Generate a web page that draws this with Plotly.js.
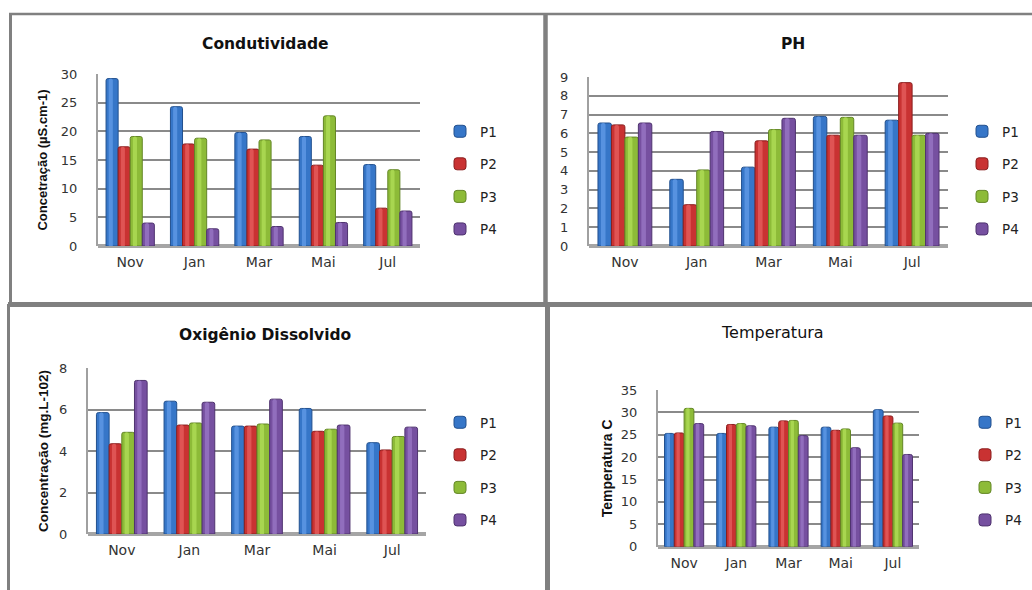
<!DOCTYPE html>
<html>
<head>
<meta charset="utf-8">
<script src="https://cdn.plot.ly/plotly-3.0.1.min.js"></script>
<style>
  html, body { margin: 0; padding: 0; background: #ffffff; }
  #chart { width: 1032px; height: 590px; }
</style>
</head>
<body>
<div id="chart"></div>
<script>
// ---------- data ----------
const months = ["Nov", "Jan", "Mar", "Mai", "Jul"];
const seriesNames = ["P1", "P2", "P3", "P4"];

const condP1 = [29.2, 24.3, 19.8, 19.1, 14.2];
const condP2 = [17.3, 17.8, 16.9, 14.1, 6.6];
const condP3 = [19.1, 18.8, 18.5, 22.7, 13.3];
const condP4 = [4.0, 3.0, 3.4, 4.1, 6.1];

const phP1 = [6.55, 3.55, 4.2, 6.9, 6.7];
const phP2 = [6.45, 2.2, 5.6, 5.9, 8.7];
const phP3 = [5.8, 4.05, 6.2, 6.85, 5.9];
const phP4 = [6.55, 6.1, 6.8, 5.9, 6.0];

const odP1 = [5.85, 6.4, 5.2, 6.05, 4.4];
const odP2 = [4.35, 5.25, 5.2, 4.95, 4.05];
const odP3 = [4.9, 5.35, 5.3, 5.05, 4.7];
const odP4 = [7.4, 6.35, 6.5, 5.25, 5.15];

const tempP1 = [25.3, 25.3, 26.7, 26.7, 30.6];
const tempP2 = [25.4, 27.3, 28.1, 26.0, 29.2];
const tempP3 = [30.9, 27.5, 28.2, 26.3, 27.6];
const tempP4 = [27.5, 27.0, 24.8, 22.1, 20.6];

const panelTitles = ["Condutividade", "PH", "Oxigênio Dissolvido", "Temperatura"];
const yTitles = ["Concetração (µS.cm-1)", "", "Concentração (mg.L-102)", "Temperatura C"];

// ---------- styling ----------
const W = 1032, H = 590;
const X = px => px / W;
const Y = py => 1 - py / H;

const fill = ["#3676c8", "#c93232", "#8dbb38", "#7650a0"];
const light = ["#5d98e4", "#e35a5a", "#addb55", "#9673c2"];
const edge = ["#22508e", "#8a1e1e", "#638626", "#4f336f"];
const tickFont = {family: "DejaVu Sans, Verdana, sans-serif", size: 13, color: "#333333"};
const gridColor = "#8a8a8a";

const GROUP = 0.75;               // share of a category taken by the group
const BW = GROUP / seriesNames.length;

const panels = [
  {data: [condP1, condP2, condP3, condP4], range: [0, 30], dtick: 5,
   xd: [98, 420], yd: [74, 246], legend: [440, 116], titleXY: [265, 44],
   yt: {size: 13, standoff: 10}, bold: true},
  {data: [phP1, phP2, phP3, phP4], range: [0, 9], dtick: 1,
   xd: [589, 948], yd: [77, 246], legend: [962, 116], titleXY: [793, 44],
   yt: null, bold: true},
  {data: [odP1, odP2, odP3, odP4], range: [0, 8], dtick: 2,
   xd: [88, 426], yd: [368, 534], legend: [440, 407], titleXY: [265, 335],
   yt: {size: 13.5, standoff: 7}, bold: true},
  {data: [tempP1, tempP2, tempP3, tempP4], range: [0, 35], dtick: 5,
   xd: [658, 919], yd: [390, 546.7], legend: [965, 407], titleXY: [772, 332],
   yt: {size: 14, standoff: 5}, bold: false}
];

const traces = [];
const layout = {
  width: W, height: H,
  margin: {l: 0, r: 0, t: 0, b: 0},
  paper_bgcolor: "#ffffff",
  plot_bgcolor: "rgba(0,0,0,0)",
  barmode: "overlay",
  barcornerradius: 2,
  showlegend: true,
  annotations: [],
  shapes: []
};

panels.forEach((p, i) => {
  const k = i === 0 ? "" : String(i + 1);
  const legName = "legend" + k;
  p.data.forEach((vals, s) => {
    const off = -GROUP / 2 + s * BW;
    // main column
    traces.push({
      type: "bar",
      x: months,
      y: vals,
      name: seriesNames[s],
      xaxis: "x" + k,
      yaxis: "y" + k,
      legend: legName,
      legendgroup: "g" + i + "_" + s,
      width: BW,
      offset: off,
      marker: {color: fill[s], opacity: 1, line: {color: edge[s], width: 1}},
      hoverinfo: "x+y+name"
    });
    // highlight stripe (cylinder shine) from the same values
    traces.push({
      type: "bar",
      x: months,
      y: vals,
      name: seriesNames[s],
      xaxis: "x" + k,
      yaxis: "y" + k,
      legend: legName,
      legendgroup: "g" + i + "_" + s,
      showlegend: false,
      width: BW * 0.34,
      offset: off + BW * 0.22,
      marker: {color: light[s], opacity: 0.85, line: {width: 0}, cornerradius: 2},
      hoverinfo: "skip"
    });
  });
  layout["xaxis" + k] = {
    domain: [X(p.xd[0]), X(p.xd[1])],
    anchor: "y" + k,
    type: "category",
    range: [-0.5, months.length - 0.5],
    showgrid: false,
    zeroline: false,
    showline: false,
    ticks: "",
    tickfont: {family: "DejaVu Sans, Verdana, sans-serif", size: 14, color: "#333333"},
    ticklabelstandoff: 6,
    fixedrange: true
  };
  layout["yaxis" + k] = {
    domain: [Y(p.yd[1]), Y(p.yd[0])],
    anchor: "x" + k,
    range: p.range,
    dtick: p.dtick,
    tick0: 0,
    showgrid: true,
    gridcolor: gridColor,
    gridwidth: 2,
    zeroline: true,
    zerolinecolor: "#a5a5a5",
    zerolinewidth: 4,
    showline: true,
    linecolor: "#a0a0a0",
    linewidth: 2,
    ticks: "",
    tickfont: tickFont,
    ticklabelstandoff: 16,
    fixedrange: true,
    title: p.yt ? {
      text: yTitles[i],
      font: {family: "Liberation Sans, Arial, sans-serif", size: p.yt.size, color: "#111111", weight: "bold"},
      standoff: p.yt.standoff
    } : {text: ""}
  };
  layout[legName] = {
    x: X(p.legend[0]), y: Y(p.legend[1]),
    xanchor: "left", yanchor: "top",
    bgcolor: "rgba(0,0,0,0)",
    font: {family: "DejaVu Sans, Verdana, sans-serif", size: 13.5, color: "#222222"},
    tracegroupgap: 12,
    itemclick: false, itemdoubleclick: false
  };
  layout.annotations.push({
    xref: "paper", yref: "paper",
    x: X(p.titleXY[0]), y: Y(p.titleXY[1]),
    xanchor: "center", yanchor: "middle",
    showarrow: false,
    text: p.bold ? "<b>" + panelTitles[i] + "</b>" : panelTitles[i],
    font: {family: "DejaVu Sans, Verdana, sans-serif", size: p.bold ? 15.5 : 16, color: "#111111"}
  });
});

// panel frames
const frame = (x0, y0, x1, y1, w) => ({
  type: "line", xref: "paper", yref: "paper",
  x0: X(x0), y0: Y(y0), x1: X(x1), y1: Y(y1),
  line: {color: "#808080", width: w}
});
layout.shapes.push(
  frame(9, 14, 1032, 14, 2.5),
  frame(10.5, 14, 10.5, 304, 3),
  frame(545.5, 14, 545.5, 304, 4.5),
  frame(8, 304.5, 1032, 304.5, 5),
  frame(8.5, 304, 8.5, 590, 3),
  frame(547.5, 304, 547.5, 590, 5)
);

Plotly.newPlot("chart", traces, layout, {displayModeBar: false, staticPlot: true});
</script>
</body>
</html>
